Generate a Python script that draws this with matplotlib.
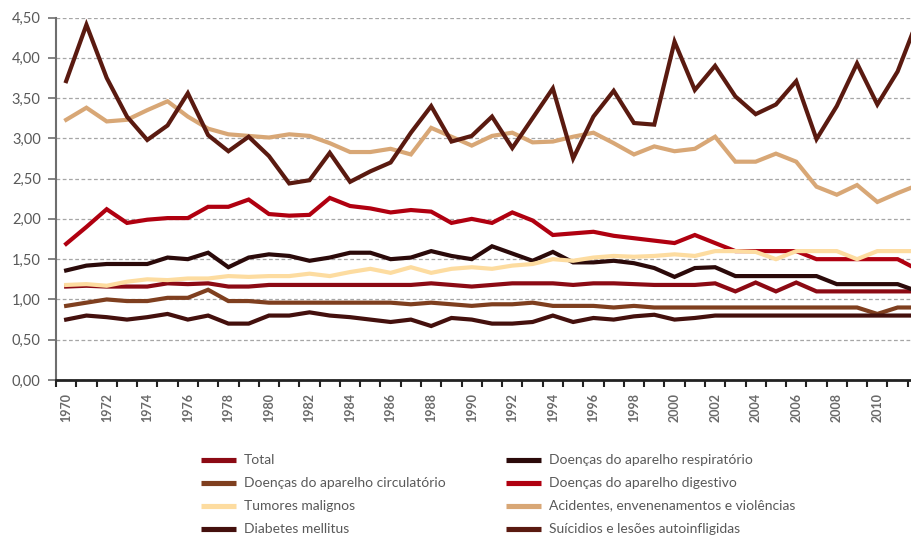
import numpy as np
import matplotlib
matplotlib.use("Agg")
from matplotlib import pyplot as plt
from matplotlib.lines import Line2D
from matplotlib.ticker import MultipleLocator, FuncFormatter

plt.rcParams['font.family'] = ['Lato', 'DejaVu Sans']

anos = list(range(1970, 2013))

total = [1.16, 1.17, 1.16, 1.16, 1.16, 1.20, 1.19, 1.20, 1.16, 1.16,
         1.18, 1.18, 1.18, 1.18, 1.18, 1.18, 1.18, 1.18, 1.20, 1.18,
         1.16, 1.18, 1.20, 1.20, 1.20, 1.18, 1.20, 1.20, 1.19, 1.18,
         1.18, 1.18, 1.20, 1.10, 1.21, 1.10, 1.21, 1.10, 1.10, 1.10,
         1.10, 1.10, 1.10]
respiratorio = [1.36, 1.42, 1.44, 1.44, 1.44, 1.52, 1.50, 1.58, 1.40, 1.52,
                1.56, 1.54, 1.48, 1.52, 1.58, 1.58, 1.50, 1.52, 1.60, 1.54,
                1.50, 1.66, 1.57, 1.48, 1.59, 1.46, 1.46, 1.48, 1.45, 1.39,
                1.28, 1.39, 1.40, 1.29, 1.29, 1.29, 1.29, 1.29, 1.19, 1.19,
                1.19, 1.19, 1.10]
circulatorio = [0.92, 0.96, 1.00, 0.98, 0.98, 1.02, 1.02, 1.12, 0.98, 0.98,
                0.96, 0.96, 0.96, 0.96, 0.96, 0.96, 0.96, 0.94, 0.96, 0.94,
                0.92, 0.94, 0.94, 0.96, 0.92, 0.92, 0.92, 0.90, 0.92, 0.90,
                0.90, 0.90, 0.90, 0.90, 0.90, 0.90, 0.90, 0.90, 0.90, 0.90,
                0.82, 0.90, 0.90]
digestivo = [1.69, 1.90, 2.12, 1.95, 1.99, 2.01, 2.01, 2.15, 2.15, 2.24,
             2.06, 2.04, 2.05, 2.26, 2.16, 2.13, 2.08, 2.11, 2.09, 1.95,
             2.00, 1.95, 2.08, 1.98, 1.80, 1.82, 1.84, 1.79, 1.76, 1.73,
             1.70, 1.80, 1.70, 1.60, 1.60, 1.60, 1.60, 1.50, 1.50, 1.50,
             1.50, 1.50, 1.37]
tumores = [1.18, 1.19, 1.17, 1.22, 1.25, 1.24, 1.26, 1.26, 1.29, 1.28,
           1.29, 1.29, 1.32, 1.29, 1.34, 1.38, 1.33, 1.40, 1.33, 1.38,
           1.40, 1.38, 1.42, 1.44, 1.50, 1.48, 1.52, 1.54, 1.53, 1.54,
           1.56, 1.54, 1.60, 1.60, 1.59, 1.50, 1.60, 1.60, 1.60, 1.50,
           1.60, 1.60, 1.60]
acidentes = [3.23, 3.38, 3.21, 3.23, 3.35, 3.46, 3.27, 3.12, 3.05, 3.03,
             3.01, 3.05, 3.03, 2.94, 2.83, 2.83, 2.87, 2.80, 3.13, 3.02,
             2.91, 3.03, 3.07, 2.95, 2.96, 3.02, 3.07, 2.94, 2.80, 2.90,
             2.84, 2.87, 3.02, 2.71, 2.71, 2.81, 2.71, 2.40, 2.30, 2.42,
             2.21, 2.32, 2.42]
diabetes = [0.75, 0.80, 0.78, 0.75, 0.78, 0.82, 0.75, 0.80, 0.70, 0.70,
            0.80, 0.80, 0.84, 0.80, 0.78, 0.75, 0.72, 0.75, 0.67, 0.77,
            0.75, 0.70, 0.70, 0.72, 0.80, 0.72, 0.77, 0.75, 0.79, 0.81,
            0.75, 0.77, 0.80, 0.80, 0.80, 0.80, 0.80, 0.80, 0.80, 0.80,
            0.80, 0.80, 0.80]
suicidios = [3.71, 4.41, 3.75, 3.27, 2.98, 3.16, 3.56, 3.04, 2.84, 3.02,
             2.78, 2.44, 2.48, 2.82, 2.46, 2.59, 2.70, 3.07, 3.40, 2.96,
             3.03, 3.27, 2.88, 3.25, 3.62, 2.75, 3.27, 3.59, 3.19, 3.17,
             4.20, 3.60, 3.90, 3.52, 3.30, 3.42, 3.71, 2.99, 3.40, 3.93,
             3.42, 3.83, 4.48]

# ordem das series (como no Excel)
series = [
    ("Total", total, "#8c0a14"),
    ("Doenças do aparelho respiratório", respiratorio, "#2b0a0a"),
    ("Doenças do aparelho circulatório", circulatorio, "#7f3f1f"),
    ("Doenças do aparelho digestivo", digestivo, "#b00010"),
    ("Tumores malignos", tumores, "#fddca0"),
    ("Acidentes, envenenamentos e violências", acidentes, "#d8a776"),
    ("Diabetes mellitus", diabetes, "#44100d"),
    ("Suícidios e lesões autoinfligidas", suicidios, "#5a1a10"),
]

W, H = 912, 540
fig = plt.figure(figsize=(W / 100, H / 100), dpi=100)
ax = fig.add_axes([56 / W, 1 - 380 / H, (W - 56) / W, (380 - 17.5) / H])

for nome, vals, cor in series:
    ax.plot(anos, vals, color=cor, lw=3, solid_joinstyle="miter", label=nome)

ax.yaxis.set_major_locator(MultipleLocator(0.5))
ax.yaxis.set_major_formatter(FuncFormatter(lambda v, p: f"{v:.2f}".replace(".", ",")))
ax.grid(axis="y", color="#a6a6a6", linestyle=(0, (3, 2)), lw=0.9)
ax.set_axisbelow(True)

ax.set_xticks(anos[::2])
ax.set_xticklabels([str(a) for a in anos[::2]], rotation=90, fontweight="bold")
ax.set_xticks(np.arange(1969.5, 2013, 1), minor=True)
ax.tick_params(axis="x", which="major", length=0, pad=9, labelsize=9, labelcolor="#6a6a6a")
ax.tick_params(axis="x", which="minor", length=5, width=1.5, color="#222222", direction="out")
ax.tick_params(axis="y", length=6, width=1.2, color="#6e6e6e", labelsize=10.5, labelcolor="#595959", pad=5)

# limites depois dos ticks (set_xticks alarga a vista)
ax.set_xlim(1969.5, 1969.5 + (W - 56) / 20.28)
ax.set_ylim(0, 4.5)

for s in ["top", "right"]:
    ax.spines[s].set_visible(False)
ax.spines["left"].set_color("#6e6e6e")
ax.spines["left"].set_linewidth(1.5)
ax.spines["bottom"].set_color("#222222")
ax.spines["bottom"].set_linewidth(2)

# legenda em duas colunas, desenhada a mao
cores = {nome: cor for nome, vals, cor in series}
esq = ["Total", "Doenças do aparelho circulatório", "Tumores malignos", "Diabetes mellitus"]
dir_ = ["Doenças do aparelho respiratório", "Doenças do aparelho digestivo",
        "Acidentes, envenenamentos e violências", "Suícidios e lesões autoinfligidas"]
linhas_y = [459.5, 482.7, 505.5, 528.7]

for nomes, x0 in [(esq, 201), (dir_, 506)]:
    for nome, y in zip(nomes, linhas_y):
        fig.add_artist(Line2D([x0 / W, (x0 + 35) / W], [1 - y / H, 1 - y / H],
                              color=cores[nome], lw=3.7, solid_capstyle="butt",
                              transform=fig.transFigure))
        fig.text((x0 + 43) / W, 1 - y / H, nome, fontsize=10, color="#595959",
                 va="center", ha="left")

fig.savefig("out.png", dpi=100)
